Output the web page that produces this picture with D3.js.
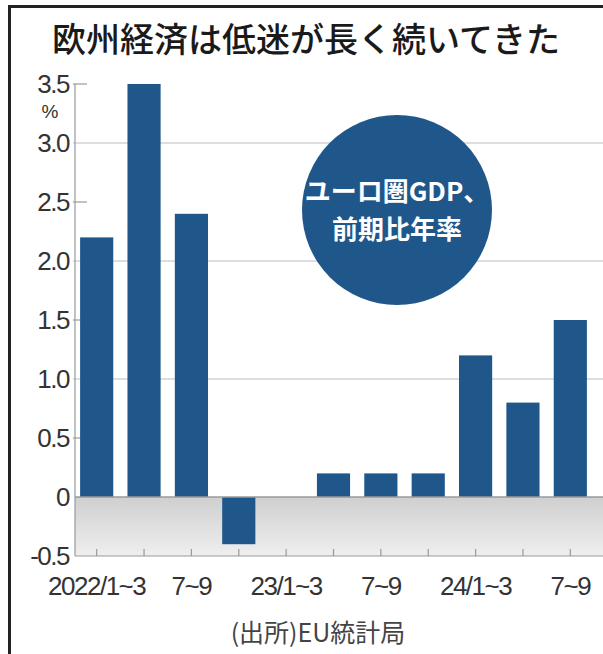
<!DOCTYPE html>
<html>
<head>
<meta charset="utf-8">
<script src="https://cdn.jsdelivr.net/npm/d3@7"></script>
<style>
  body { margin: 0; background: #fff; }
  svg { display: block; }
  .num { font-family: "Liberation Sans", Arial, sans-serif; fill: #333; }
</style>
</head>
<body>
<svg id="chart" width="603" height="654"></svg>
<script>
// quarters of the euro area GDP series
var quarters = ["2022/1~3", "4~6", "7~9", "10~12", "23/1~3", "4~6 ", "7~9 ", "10~12 ", "24/1~3", "4~6  ", "7~9  "];
var gdp_growth = [2.2, 3.5, 2.4, -0.4, 0, 0.2, 0.2, 0.2, 1.2, 0.8, 1.5];
var tick_labels = ["2022/1~3", "", "7~9", "", "23/1~3", "", "7~9", "", "24/1~3", "", "7~9"];
var y_ticks = [-0.5, 0, 0.5, 1.0, 1.5, 2.0, 2.5, 3.0, 3.5];
var y_tick_labels = ["-0.5", "0", "0.5", "1.0", "1.5", "2.0", "2.5", "3.0", "3.5"];
var grid_values = [1.0, 2.0, 3.0];

var bar_color = "#1f578b";
var svg = d3.select("#chart");

var x_scale = d3.scaleBand().domain(quarters).range([73, 594]).paddingInner(0.3).paddingOuter(0.15);
var y_scale = d3.scaleLinear().domain([-0.5, 3.5]).range([556, 84]);

// frame
svg.append("line").attr("x1", 8).attr("x2", 603).attr("y1", 6.5).attr("y2", 6.5)
    .attr("stroke", "#222").attr("stroke-width", 3);
svg.append("line").attr("x1", 9.5).attr("x2", 9.5).attr("y1", 5).attr("y2", 654)
    .attr("stroke", "#222").attr("stroke-width", 3);

// title
svg.append("text")
    .attr("x", 306).attr("y", 52)
    .attr("text-anchor", "middle")
    .style("font-family", "'Noto Sans CJK JP', sans-serif")
    .style("font-size", "34px")
    .style("font-weight", 500)
    .style("fill", "#1a1a1a")
    .text("欧州経済は低迷が長く続いてきた");

// gray zone under zero
var grad = svg.append("defs").append("linearGradient")
    .attr("id", "neg").attr("x1", 0).attr("x2", 0).attr("y1", 0).attr("y2", 1);
grad.append("stop").attr("offset", "0%").attr("stop-color", "#cfcfcf");
grad.append("stop").attr("offset", "100%").attr("stop-color", "#efefef");
svg.append("rect")
    .attr("x", 75).attr("y", y_scale(0))
    .attr("width", 603 - 75).attr("height", y_scale(-0.5) - y_scale(0))
    .attr("fill", "url(#neg)");

// grid lines
svg.selectAll(".grid").data(grid_values).enter().append("line")
    .attr("class", "grid")
    .attr("x1", 73).attr("x2", 603)
    .attr("y1", function(d) { return y_scale(d); })
    .attr("y2", function(d) { return y_scale(d); })
    .attr("stroke", "#bdbdbd").attr("stroke-width", 1.2);

// short ticks on the half values
svg.selectAll(".ytick").data(y_ticks.filter(function(d) { return d > 0 && grid_values.indexOf(d) < 0; }))
    .enter().append("line")
    .attr("class", "ytick")
    .attr("x1", 73).attr("x2", 87)
    .attr("y1", function(d) { return y_scale(d); })
    .attr("y2", function(d) { return y_scale(d); })
    .attr("stroke", "#999").attr("stroke-width", 1.2);

// circle label
svg.append("circle").attr("cx", 397).attr("cy", 210).attr("r", 95).attr("fill", "#1f578b");
svg.append("text")
    .attr("x", 397).attr("y", 201)
    .attr("text-anchor", "middle")
    .style("font-family", "'Noto Sans CJK JP', sans-serif")
    .style("font-size", "26px").style("font-weight", 700)
    .style("fill", "#fff")
    .text("ユーロ圏GDP、");
svg.append("text")
    .attr("x", 397).attr("y", 239)
    .attr("text-anchor", "middle")
    .style("font-family", "'Noto Sans CJK JP', sans-serif")
    .style("font-size", "26px").style("font-weight", 700)
    .style("fill", "#fff")
    .text("前期比年率");

// bars
svg.selectAll(".bar").data(gdp_growth).enter().append("rect")
    .attr("class", "bar")
    .attr("x", function(d, i) { return x_scale(quarters[i]); })
    .attr("y", function(d) { return y_scale(Math.max(0, d)); })
    .attr("width", x_scale.bandwidth())
    .attr("height", function(d) { return Math.abs(y_scale(d) - y_scale(0)); })
    .attr("fill", bar_color);

// zero line
svg.append("line").attr("x1", 75).attr("x2", 603)
    .attr("y1", y_scale(0)).attr("y2", y_scale(0))
    .attr("stroke", "#9a9a9a").attr("stroke-width", 1.5);

// y axis line and bottom axis
svg.append("line").attr("x1", 75).attr("x2", 75)
    .attr("y1", y_scale(3.5)).attr("y2", y_scale(-0.5))
    .attr("stroke", "#999").attr("stroke-width", 1.2);
svg.append("line").attr("x1", 75).attr("x2", 603)
    .attr("y1", y_scale(-0.5)).attr("y2", y_scale(-0.5))
    .attr("stroke", "#999").attr("stroke-width", 1.2);

svg.selectAll(".xtick").data(quarters).enter().append("line")
    .attr("class", "xtick")
    .attr("x1", function(d) { return x_scale(d) + x_scale.bandwidth() / 2; })
    .attr("x2", function(d) { return x_scale(d) + x_scale.bandwidth() / 2; })
    .attr("y1", y_scale(-0.5)).attr("y2", y_scale(-0.5) - 7)
    .attr("stroke", "#999").attr("stroke-width", 1.2);

// y labels
svg.selectAll(".ylab").data(y_ticks).enter().append("text")
    .attr("class", "num ylab")
    .attr("x", 69)
    .attr("y", function(d) { return y_scale(d) + 9; })
    .attr("text-anchor", "end")
    .style("font-size", "26px")
    .style("letter-spacing", "-1.5px")
    .text(function(d, i) { return y_tick_labels[i]; });
svg.append("text").attr("class", "num")
    .attr("x", 50).attr("y", 118)
    .attr("text-anchor", "middle")
    .style("font-size", "19px")
    .text("%");

// x labels
svg.selectAll(".xlab").data(quarters).enter().append("text")
    .attr("class", "num xlab")
    .attr("x", function(d) { return x_scale(d) + x_scale.bandwidth() / 2; })
    .attr("y", 595)
    .attr("text-anchor", "middle")
    .style("font-size", "26px")
    .style("letter-spacing", "-1.5px")
    .text(function(d, i) { return tick_labels[i]; });

// source
svg.append("text")
    .attr("x", 318).attr("y", 642)
    .attr("text-anchor", "middle")
    .style("font-family", "'Noto Sans CJK JP', sans-serif")
    .style("font-size", "25px")
    .style("fill", "#444")
    .text("(出所)EU統計局");
</script>
</body>
</html>
